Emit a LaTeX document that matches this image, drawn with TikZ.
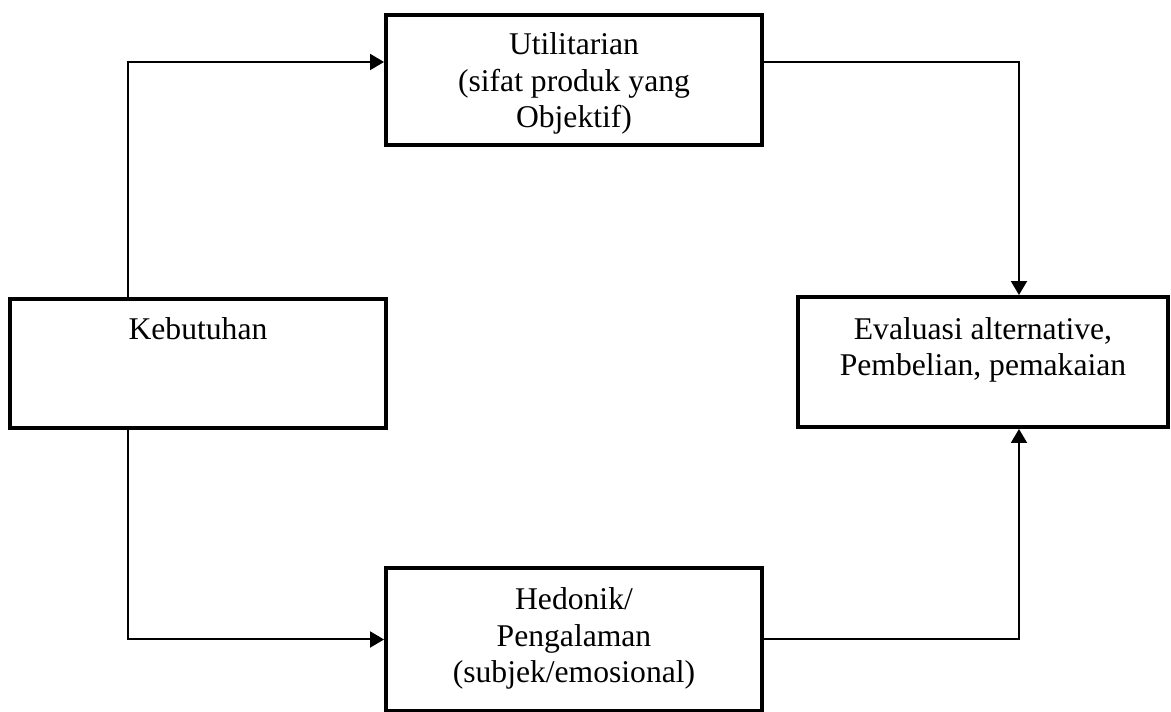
\documentclass[tikz,border=0pt]{standalone}
\usepackage{fontspec}
\setmainfont{Liberation Serif}
\usetikzlibrary{arrows.meta}

\tikzset{
  box/.style={draw,line width=0.08cm,align=center,inner sep=0pt,anchor=north},
  link/.style={line width=0.04cm,-{Triangle[length=0.28cm,width=0.32cm]}}
}

\begin{document}
\begin{tikzpicture}[x=0.02cm,y=-0.02cm,font=\fontsize{18}{20.8}\selectfont]
\useasboundingbox (0,0) rectangle (1171,711);
\node[box,minimum width=7.52cm,text height=2.26cm,text depth=0.34cm] (util) at (574,13) {Utilitarian\\(sifat produk yang\\Objektif)};
\node[box,minimum width=7.52cm,text height=0.82cm,text depth=1.76cm] (keb) at (198,297) {Kebutuhan};
\node[box,minimum width=7.4cm,text height=1.58cm,text depth=1.02cm] (eval) at (983,295) {Evaluasi alternative,\\Pembelian, pemakaian};
\node[box,minimum width=7.52cm,text height=2.3cm,text depth=0.56cm] (hed) at (574,566) {Hedonik/\\Pengalaman\\(subjek/emosional)};
\draw[link] ([xshift=-1.4cm]keb.north) |- ([yshift=0.36cm]util.west);
\draw[link] ([yshift=0.36cm]util.east) -| ([xshift=0.72cm]eval.north);
\draw[link] ([xshift=-1.4cm]keb.south) |- (hed.west);
\draw[link] (hed.east) -| ([xshift=0.72cm]eval.south);
\end{tikzpicture}
\end{document}
